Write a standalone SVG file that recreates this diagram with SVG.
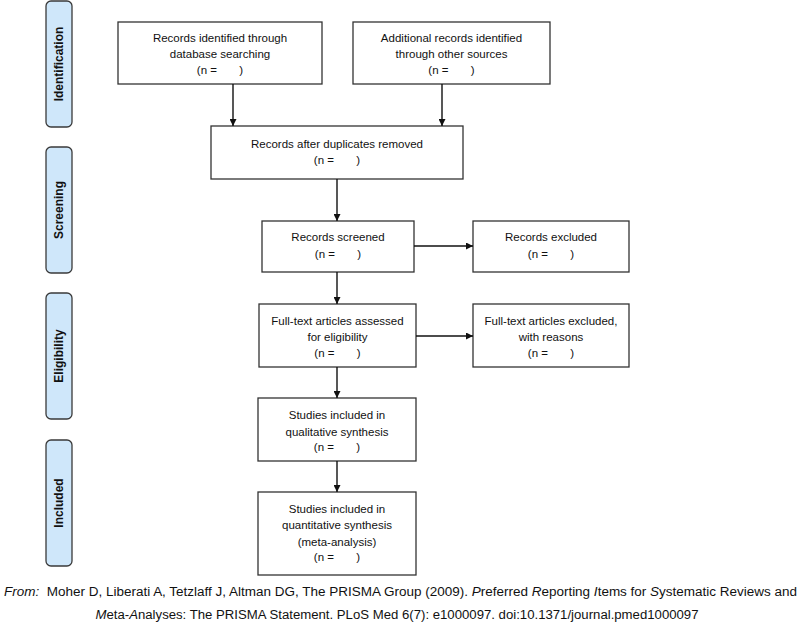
<svg xmlns="http://www.w3.org/2000/svg" width="800" height="626" viewBox="0 0 800 626">
<defs>
<style>
.stage rect{fill:#cfe7fa;stroke:#3a3a3a;stroke-width:1.3}
.stage text{font-family:"Liberation Sans",Arial,sans-serif;font-weight:bold;font-size:12px;fill:#111;text-anchor:middle}
.box rect{fill:#fff;stroke:#333;stroke-width:1.3}
.box text{font-family:"Liberation Sans",Arial,sans-serif;font-size:11.5px;fill:#111;text-anchor:middle}
.conn line{stroke:#111;stroke-width:1.4;fill:none}
.foot{font-family:"Liberation Sans",Arial,sans-serif;font-size:12.5px;fill:#111;text-anchor:middle}
</style>
<marker id="ah" viewBox="0 0 10 10" refX="10" refY="5" markerWidth="7" markerHeight="7" markerUnits="userSpaceOnUse" orient="auto">
<path d="M0,0 L10,5 L0,10 z" fill="#111"/>
</marker>
</defs>
<rect width="800" height="626" fill="#fff"/>

<g id="stage-identification" class="stage">
<rect x="46" y="1" width="26" height="126" rx="5"/>
<text transform="translate(63,64) rotate(-90)">Identification</text>
</g>
<g id="stage-screening" class="stage">
<rect x="46" y="147" width="26" height="126" rx="5"/>
<text transform="translate(63,210) rotate(-90)">Screening</text>
</g>
<g id="stage-eligibility" class="stage">
<rect x="46" y="293" width="26" height="126" rx="5"/>
<text transform="translate(63,356) rotate(-90)">Eligibility</text>
</g>
<g id="stage-included" class="stage">
<rect x="46" y="440" width="26" height="126" rx="5"/>
<text transform="translate(63,503) rotate(-90)">Included</text>
</g>

<g id="records-database" class="box">
<rect x="118" y="22" width="204" height="62"/>
<text x="220" y="42">Records identified through</text>
<text x="220" y="58">database searching</text>
<text x="220" y="74" xml:space="preserve">(n =       )</text>
</g>
<g id="records-other" class="box">
<rect x="353" y="22" width="197" height="62"/>
<text x="451.5" y="42">Additional records identified</text>
<text x="451.5" y="58">through other sources</text>
<text x="451.5" y="74" xml:space="preserve">(n =       )</text>
</g>
<g id="records-dedup" class="box">
<rect x="211" y="126" width="252" height="53"/>
<text x="337" y="148">Records after duplicates removed</text>
<text x="337" y="164" xml:space="preserve">(n =       )</text>
</g>
<g id="records-screened" class="box">
<rect x="262" y="221" width="152" height="51"/>
<text x="338" y="241">Records screened</text>
<text x="338" y="258" xml:space="preserve">(n =       )</text>
</g>
<g id="records-excluded" class="box">
<rect x="473" y="221" width="156" height="51"/>
<text x="551" y="241">Records excluded</text>
<text x="551" y="258" xml:space="preserve">(n =       )</text>
</g>
<g id="fulltext-assessed" class="box">
<rect x="259" y="304" width="157" height="63"/>
<text x="337.5" y="325">Full-text articles assessed</text>
<text x="337.5" y="341">for eligibility</text>
<text x="337.5" y="357" xml:space="preserve">(n =       )</text>
</g>
<g id="fulltext-excluded" class="box">
<rect x="473" y="304" width="156" height="63"/>
<text x="551" y="325">Full-text articles excluded,</text>
<text x="551" y="341">with reasons</text>
<text x="551" y="357" xml:space="preserve">(n =       )</text>
</g>
<g id="qualitative" class="box">
<rect x="258" y="398" width="158" height="63"/>
<text x="337" y="419">Studies included in</text>
<text x="337" y="436">qualitative synthesis</text>
<text x="337" y="451" xml:space="preserve">(n =       )</text>
</g>
<g id="quantitative" class="box">
<rect x="258" y="492" width="158" height="83"/>
<text x="337" y="513">Studies included in</text>
<text x="337" y="529">quantitative synthesis</text>
<text x="337" y="546">(meta-analysis)</text>
<text x="337" y="561" xml:space="preserve">(n =       )</text>
</g>

<g id="connectors" class="conn">
<line x1="233" y1="84" x2="233" y2="126" marker-end="url(#ah)"/>
<line x1="442" y1="84" x2="442" y2="126" marker-end="url(#ah)"/>
<line x1="337" y1="179" x2="337" y2="221" marker-end="url(#ah)"/>
<line x1="414" y1="246" x2="473" y2="246" marker-end="url(#ah)"/>
<line x1="337" y1="272" x2="337" y2="304" marker-end="url(#ah)"/>
<line x1="416" y1="336" x2="473" y2="336" marker-end="url(#ah)"/>
<line x1="337" y1="367" x2="337" y2="398" marker-end="url(#ah)"/>
<line x1="337" y1="461" x2="337" y2="492" marker-end="url(#ah)"/>
</g>

<g id="footer">
<text class="foot" x="400.5" y="596" textLength="793" lengthAdjust="spacingAndGlyphs" xml:space="preserve"><tspan font-style="italic">From:</tspan>  Moher D, Liberati A, Tetzlaff J, Altman DG, The PRISMA Group (2009). <tspan font-style="italic">P</tspan>referred <tspan font-style="italic">R</tspan>eporting <tspan font-style="italic">I</tspan>tems for <tspan font-style="italic">S</tspan>ystematic Reviews and</text>
<text class="foot" x="397" y="619" textLength="603" lengthAdjust="spacingAndGlyphs"><tspan font-style="italic">M</tspan>eta-<tspan font-style="italic">A</tspan>nalyses: The PRISMA Statement. PLoS Med 6(7): e1000097. doi:10.1371/journal.pmed1000097</text>
</g>
</svg>
